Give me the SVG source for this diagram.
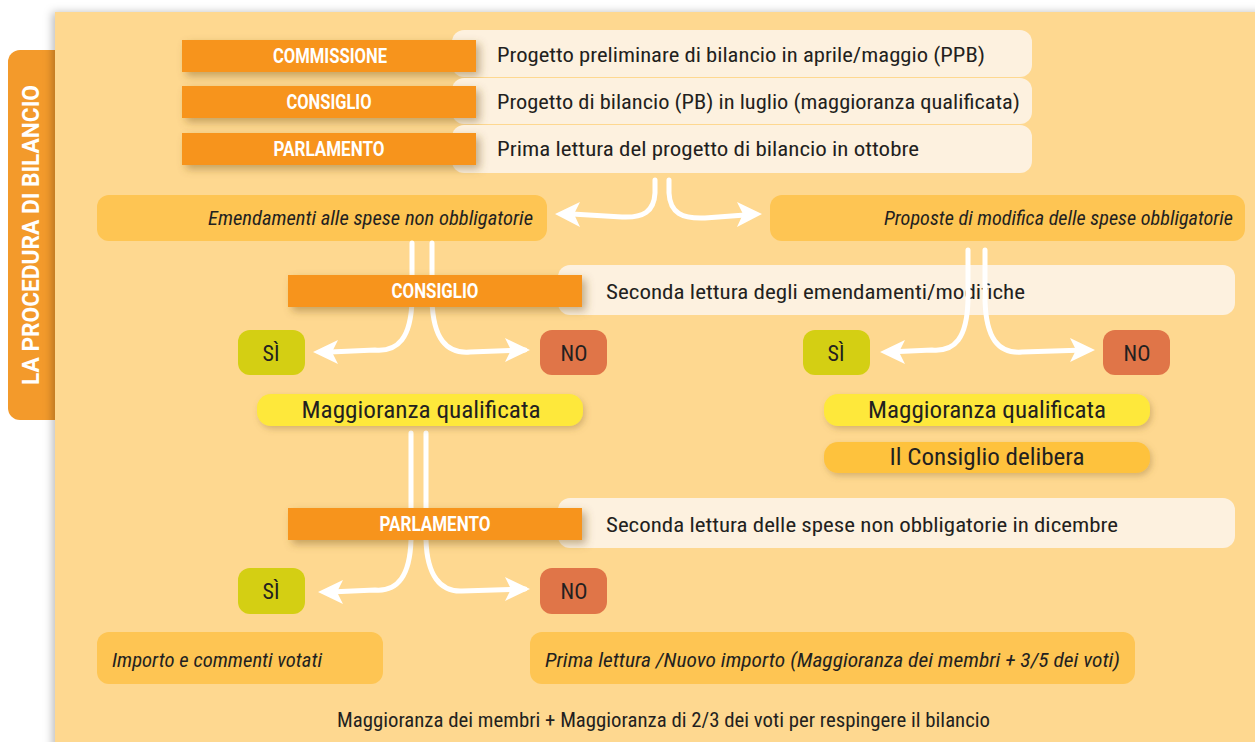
<svg xmlns="http://www.w3.org/2000/svg" width="1255" height="742" viewBox="0 0 1255 742">
<defs>
<filter id="sh" x="-10%" y="-30%" width="130%" height="180%">
<feDropShadow dx="4" dy="4" stdDeviation="4" flood-color="#7a5a20" flood-opacity="0.45"/>
</filter>
<filter id="sh2" x="-10%" y="-30%" width="130%" height="180%">
<feDropShadow dx="2" dy="3" stdDeviation="3" flood-color="#8a6a30" flood-opacity="0.35"/>
</filter>
<filter id="psh" x="-5%" y="-5%" width="110%" height="110%">
<feDropShadow dx="-3" dy="0" stdDeviation="4" flood-color="#000" flood-opacity="0.25"/>
</filter>
<style>
.t{font-family:"Liberation Sans Narrow","Roboto Condensed","Roboto","Liberation Sans",sans-serif;fill:#231f20;font-size:21px}
.i{font-style:italic}
.h{font-family:"Roboto","Liberation Sans",sans-serif;font-weight:bold;fill:#fff;font-size:20px;text-anchor:middle}
.c{text-anchor:middle}
.org{fill:#f7941e}
.cream{fill:#fdf1df}
.amb{fill:#fec553}
.si{fill:#d4cf13}
.no{fill:#e07548}
.yel{fill:#fee83b}
.ln{fill:none;stroke:#fff;stroke-width:5;stroke-linecap:round;stroke-linejoin:round}
.ah{fill:#fff}
</style>
</defs>
<rect width="1255" height="742" fill="#fff"/>
<g id="tab">
<rect x="8" y="50" width="70" height="370" rx="12" fill="#f39a2b"/>
<text transform="translate(39,235) rotate(-90)" class="h" style="font-size:24px" textLength="300" lengthAdjust="spacingAndGlyphs">LA PROCEDURA DI BILANCIO</text>
</g>
<rect id="panel" x="55" y="12" width="1210" height="740" fill="#fed890" filter="url(#psh)"/>

<g id="row1">
<rect x="452" y="30" width="580" height="47" rx="12" class="cream"/>
<rect x="182" y="40" width="294" height="32" class="org" filter="url(#sh)"/>
<text x="330" y="63" class="h" textLength="114" lengthAdjust="spacingAndGlyphs">COMMISSIONE</text>
<text x="497" y="62" class="t" textLength="488" lengthAdjust="spacingAndGlyphs">Progetto preliminare di bilancio in aprile/maggio (PPB)</text>
</g>
<g id="row2">
<rect x="452" y="78" width="580" height="46" rx="12" class="cream"/>
<rect x="182" y="86" width="294" height="32" class="org" filter="url(#sh)"/>
<text x="329" y="109" class="h" textLength="85" lengthAdjust="spacingAndGlyphs">CONSIGLIO</text>
<text x="497" y="109" class="t" textLength="523" lengthAdjust="spacingAndGlyphs">Progetto di bilancio (PB) in luglio (maggioranza qualificata)</text>
</g>
<g id="row3">
<rect x="452" y="125" width="580" height="48" rx="12" class="cream"/>
<rect x="182" y="133" width="294" height="32" class="org" filter="url(#sh)"/>
<text x="329" y="156" class="h" textLength="111" lengthAdjust="spacingAndGlyphs">PARLAMENTO</text>
<text x="497" y="156" class="t" textLength="422" lengthAdjust="spacingAndGlyphs">Prima lettura del progetto di bilancio in ottobre</text>
</g>

<g id="emend">
<rect x="97" y="195" width="450" height="46" rx="12" class="amb"/>
<text x="533" y="225" class="t i" text-anchor="end" textLength="325" lengthAdjust="spacingAndGlyphs">Emendamenti alle spese non obbligatorie</text>
</g>
<g id="proposte">
<rect x="770" y="195" width="475" height="46" rx="12" class="amb"/>
<text x="1233" y="225" class="t i" text-anchor="end" textLength="349" lengthAdjust="spacingAndGlyphs">Proposte di modifica delle spese obbligatorie</text>
</g>

<g id="connectors-back">
<path class="ln" d="M412,243 L412,300 C411,338 398,352 375,350 L330,352"/>
<path class="ln" d="M432,243 L432,300 C433,338 446,354 470,352 L525,350"/>
<path class="ln" d="M411,433 L411,540 C410,575 398,592 375,590 L330,592"/>
<path class="ln" d="M426,433 L426,540 C427,575 440,592 462,591 L525,589"/>
</g>

<g id="consiglio2">
<rect x="558" y="265" width="677" height="50" rx="12" class="cream"/>
<rect x="288" y="275" width="294" height="32" class="org" filter="url(#sh)"/>
<text x="435" y="298" class="h" textLength="87" lengthAdjust="spacingAndGlyphs">CONSIGLIO</text>
<text x="606" y="299" class="t" textLength="419" lengthAdjust="spacingAndGlyphs">Seconda lettura degli emendamenti/modifiche</text>
</g>

<g id="parlamento2">
<rect x="558" y="498" width="677" height="50" rx="12" class="cream"/>
<rect x="288" y="508" width="294" height="32" class="org" filter="url(#sh)"/>
<text x="435" y="531" class="h" textLength="111" lengthAdjust="spacingAndGlyphs">PARLAMENTO</text>
<text x="606" y="532" class="t" textLength="512" lengthAdjust="spacingAndGlyphs">Seconda lettura delle spese non obbligatorie in dicembre</text>
</g>

<g id="connectors">
<path class="ln" d="M655,180 L655,193 C654,212 643,218 622,217 L572,214"/>
<polygon class="ah" points="555,214 580,202 574,214 580,227"/>
<path class="ln" d="M669,180 L669,193 C670,213 682,219 705,218 L745,215"/>
<polygon class="ah" points="762,214 737,202 743,214 737,227"/>
<polygon class="ah" points="313,352 338,340 332,352 338,364"/>
<polygon class="ah" points="530,350 505,338 511,350 505,362"/>
<path class="ln" d="M968,250 L968,300 C967,338 955,352 932,350 L888,352"/>
<path class="ln" d="M985,250 L985,300 C986,338 998,354 1022,352 L1085,350"/>
<polygon class="ah" points="880,352 905,340 899,352 905,364"/>
<polygon class="ah" points="1095,350 1070,338 1076,350 1070,362"/>
<polygon class="ah" points="318,592 343,580 337,592 343,604"/>
<polygon class="ah" points="530,589 505,577 511,589 505,601"/>
</g>

<g id="si1"><rect x="238" y="330" width="67" height="45" rx="12" class="si"/><text x="271" y="361" class="t c" style="font-size:22px">SÌ</text></g>
<g id="no1"><rect x="540" y="330" width="67" height="45" rx="12" class="no"/><text x="574" y="361" class="t c" style="font-size:22px">NO</text></g>
<g id="si2"><rect x="803" y="330" width="67" height="45" rx="12" class="si"/><text x="836" y="361" class="t c" style="font-size:22px">SÌ</text></g>
<g id="no2"><rect x="1103" y="330" width="67" height="45" rx="12" class="no"/><text x="1137" y="361" class="t c" style="font-size:22px">NO</text></g>

<g id="mq1"><rect x="257" y="394" width="326" height="32" rx="14" class="yel" filter="url(#sh2)"/><text x="421" y="418" class="t c" style="font-size:23px" textLength="239" lengthAdjust="spacingAndGlyphs">Maggioranza qualificata</text></g>
<g id="mq2"><rect x="824" y="394" width="326" height="32" rx="14" class="yel" filter="url(#sh2)"/><text x="987" y="418" class="t c" style="font-size:23px" textLength="238" lengthAdjust="spacingAndGlyphs">Maggioranza qualificata</text></g>
<g id="delibera"><rect x="824" y="442" width="326" height="31" rx="14" fill="#fec23e" filter="url(#sh2)"/><text x="987" y="465" class="t c" style="font-size:23px" textLength="195" lengthAdjust="spacingAndGlyphs">Il Consiglio delibera</text></g>

<g id="si3"><rect x="238" y="568" width="67" height="46" rx="12" class="si"/><text x="271" y="599" class="t c" style="font-size:22px">SÌ</text></g>
<g id="no3"><rect x="540" y="568" width="67" height="46" rx="12" class="no"/><text x="574" y="599" class="t c" style="font-size:22px">NO</text></g>

<g id="importo"><rect x="97" y="632" width="286" height="52" rx="12" class="amb"/><text x="112" y="667" class="t i" textLength="210" lengthAdjust="spacingAndGlyphs">Importo e commenti votati</text></g>
<g id="prima"><rect x="530" y="632" width="605" height="52" rx="12" class="amb"/><text x="545" y="667" class="t i" textLength="575" lengthAdjust="spacingAndGlyphs">Prima lettura /Nuovo importo (Maggioranza dei membri + 3/5 dei voti)</text></g>

<g id="footer"><text x="337" y="727" class="t" textLength="653" lengthAdjust="spacingAndGlyphs">Maggioranza dei membri + Maggioranza di 2/3 dei voti per respingere il bilancio</text></g>
</svg>
